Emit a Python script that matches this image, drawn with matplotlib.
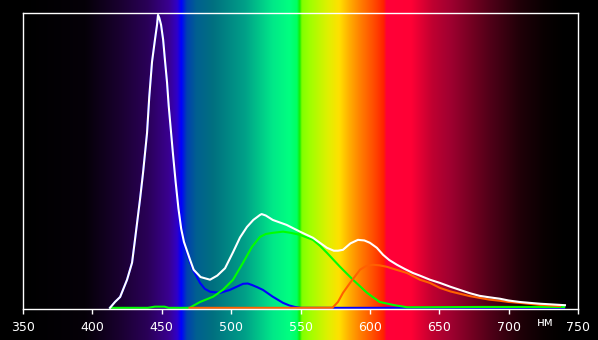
"""Emission spectrum of a display white point over a visible-spectrum backdrop."""
import numpy as np
import matplotlib
matplotlib.use("Agg")
import matplotlib.pyplot as plt
from matplotlib.colors import LinearSegmentedColormap

# backdrop colour stops (wavelength, colour)
bg_nm = [350, 395, 420, 440, 455, 461, 464, 468, 475, 487, 510, 530, 542, 547.5,
         549.5, 551, 557, 570, 578, 585, 593, 605, 610, 612, 630, 645, 658, 675,
         687, 708, 725, 740, 750]
bg_col = ["#000000", "#050008", "#1a0030", "#2a0058", "#3a0090", "#3000c8", "#0000ff",
          "#0040b0", "#006090", "#007080", "#00a088", "#00e888", "#00ff80", "#00ff60",
          "#10f000", "#80ff00", "#a0ff00", "#e0f000", "#ffe000", "#ffb000", "#ff8000",
          "#ff4000", "#ff2000", "#ff0038", "#ff0035", "#c00030", "#a00030", "#700020",
          "#500018", "#200008", "#0a0002", "#000000", "#000000"]

white_nm = [412.7, 416.3, 420, 425, 428.6, 430.7, 434.3, 436.5, 439.4, 441, 443,
            445.1, 446.6, 447.3, 448.2, 449.5, 451, 452.3, 453.8, 455, 456.5, 458,
            460, 462, 464, 466, 470.4, 473, 478, 484.8, 490, 495.6, 501.4, 506.4, 511.4,
            516, 520.8, 522, 525, 530, 540, 549.6, 559, 569, 574, 577, 580.6, 586,
            591.4, 596, 600, 605, 609.5, 614, 619.5, 625, 631, 636, 643.3, 650.5, 658,
            665, 672, 679, 686, 693.8, 700, 708, 715, 722.6, 730, 737, 740.6]
white_v = [0.0, 0.02, 0.037, 0.096, 0.154, 0.232, 0.369, 0.46, 0.597, 0.72, 0.84,
           0.915, 0.966, 1.0, 0.99, 0.966, 0.915, 0.846, 0.77, 0.69, 0.61, 0.53,
           0.43, 0.34, 0.27, 0.225, 0.164, 0.13, 0.105, 0.096, 0.11, 0.135, 0.19, 0.24,
           0.276, 0.30, 0.317, 0.32, 0.315, 0.30, 0.283, 0.26, 0.239, 0.205, 0.195,
           0.195, 0.198, 0.22, 0.232, 0.23, 0.222, 0.205, 0.181, 0.163, 0.147, 0.133,
           0.119, 0.11, 0.096, 0.085, 0.072, 0.061, 0.05, 0.041, 0.036, 0.031, 0.025,
           0.02, 0.017, 0.014, 0.012, 0.010, 0.009]

blue_nm = [412.7, 416.3, 420, 425, 428.6, 430.7, 434.3, 436.5, 439.4, 441, 443, 445.1,
           446.6, 447.3, 448.2, 449.5, 451, 452.3, 453.8, 455, 456.5, 458, 460, 462,
           464, 466, 470, 472.5, 477.6, 481, 484.8, 492, 499, 504, 508.6, 512, 515,
           519, 523, 530, 537.4, 542, 546, 550, 740]
blue_v = [0.0, 0.02, 0.037, 0.096, 0.154, 0.232, 0.369, 0.46, 0.597, 0.72, 0.84, 0.915,
          0.966, 1.0, 0.99, 0.966, 0.915, 0.846, 0.77, 0.69, 0.61, 0.53, 0.43, 0.34,
          0.265, 0.215, 0.16, 0.13, 0.085, 0.065, 0.055, 0.051, 0.061, 0.072, 0.082,
          0.083, 0.078, 0.07, 0.061, 0.038, 0.017, 0.008, 0.003, 0.0, 0.0]

green_nm = [413, 440, 445, 452, 455, 470, 477.6, 487, 494, 501.4, 508.6, 515, 520.8, 525,
            530, 537.4, 543, 549.6, 559, 564, 569, 578.5, 587.8, 598, 607, 616.7, 626.8,
            640, 680, 740]
green_v = [0.0, 0.0, 0.004, 0.004, 0.0, 0.0, 0.02, 0.038, 0.061, 0.096, 0.154, 0.208,
           0.242, 0.252, 0.256, 0.26, 0.256, 0.249, 0.232, 0.212, 0.188, 0.14, 0.096,
           0.051, 0.02, 0.01, 0.002, 0.002, 0.003, 0.003]

red_nm = [470, 573, 577, 580.6, 585.7, 592.9, 597, 602.2, 607, 612.3, 619, 626.8, 636,
          643.3, 650.5, 658, 665, 672, 679, 686, 693.8, 700, 708, 722.6, 737]
red_v = [0.0, 0.0, 0.02, 0.051, 0.085, 0.13, 0.142, 0.147, 0.145, 0.14, 0.13, 0.119,
         0.096, 0.085, 0.068, 0.056, 0.048, 0.04, 0.034, 0.028, 0.024, 0.02, 0.017,
         0.01, 0.006]

xticks = [350, 400, 450, 500, 550, 600, 650, 700, 750]

W, H = 598, 340
fig = plt.figure(figsize=(W / 100, H / 100), dpi=100, facecolor="black")

# spectrum backdrop spans the full height of the figure
bg = fig.add_axes([23 / W, 0, 555 / W, 1])
cmap = LinearSegmentedColormap.from_list(
    "spec", [((n - 350) / 400, c) for n, c in zip(bg_nm, bg_col)], N=1024)
bg.imshow(np.linspace(0, 1, 1024)[None, :], cmap=cmap, aspect="auto",
          extent=[350, 750, 0, 1], interpolation="bilinear")
bg.set_axis_off()

ax = fig.add_axes([23 / W, (H - 309) / H, 555 / W, (309 - 12.5) / H])
ax.set_facecolor("none")
ax.plot(blue_nm, blue_v, color="#0000ff", lw=1.5)
ax.plot(green_nm, green_v, color="#00ff00", lw=1.5)
ax.plot(red_nm, red_v, color="#ff6000", lw=1.5)
ax.plot(white_nm, white_v, color="white", lw=1.5)

ax.set_xlim(350, 750)
ax.set_ylim(-0.004, 1.008)
ax.set_xticks(xticks)
ax.set_yticks([])
ax.tick_params(axis="x", colors="white", length=3.6, width=1, pad=5, labelsize=9)
for s in ax.spines.values():
    s.set_color("white")
    s.set_linewidth(1.0)
fig.text(545 / W, 1 - 322 / H, "нм", color="white", fontsize=8.5, ha="center", va="center")

fig.savefig("out.png", dpi=100, facecolor="black")
